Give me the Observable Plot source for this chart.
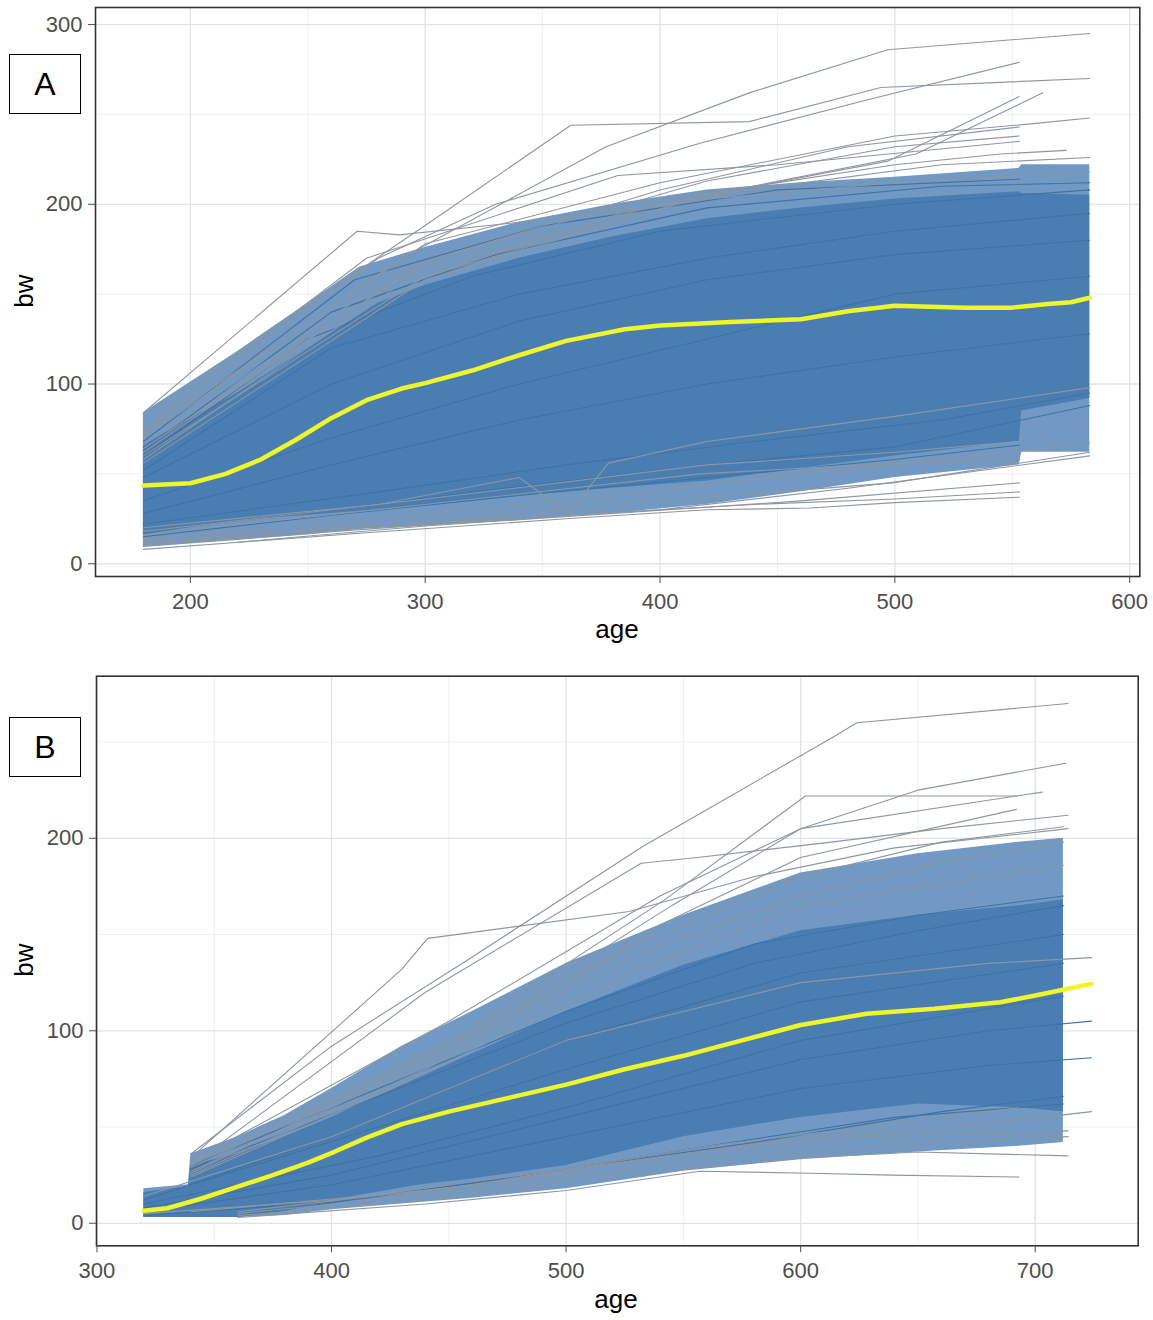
<!DOCTYPE html>
<html><head><meta charset="utf-8">
<script src="https://cdn.jsdelivr.net/npm/d3@7"></script>
<script src="https://cdn.jsdelivr.net/npm/@observablehq/plot@0.6"></script>
<style>
body{margin:0;background:#fff;font-family:"Liberation Sans",Arial,sans-serif;}
#wrap{position:relative;width:1153px;height:1320px;overflow:hidden;}
.panel{position:absolute;left:0;}
.tag{position:absolute;left:9px;width:72px;height:60px;box-sizing:border-box;border:1.5px solid #000;font-size:32px;display:flex;align-items:center;justify-content:center;background:#fff;color:#000;}
#titles{position:absolute;left:0;top:0;}
</style></head><body>
<div id="wrap">
<div id="pA" class="panel" style="top:0"></div>
<div id="pB" class="panel" style="top:650px"></div>
<svg id="titles" width="1153" height="1320"></svg>
<div class="tag" style="top:54px">A</div>
<div class="tag" style="top:717px">B</div>
</div>
<script>
// ---------- Panel A data ----------
const ageTicksA = [200, 300, 400, 500, 600];
const ageMinorA = [250, 350, 450, 550];
const bwTicksA = [0, 100, 200, 300];
const bwMinorA = [50, 150, 250];

const meanA = [[180,43.6],[200,44.8],[215,50],[230,58],[245,69],[260,81],[275,91],[290,97.5],[300,100.5],[320,107.5],[340,116],[360,124],[385,130.5],[400,132.5],[430,134.5],[460,136],[480,140.5],[500,143.5],[530,142.5],[550,142.5],[565,144.5],[575,145.5],[583,148]];

// spread of the many individual curves (spread = sparser, core = densest)
const spreadAgeA = [180,220,250,272,300,340,380,420,460,500,553,554,583];
const spreadLowA = [9,13,16,19,21,24,28,33,40,48,55,62,62];
const spreadHighA = [84,118,145,165,176,190,200,208,212,215,220,222,222];
const coreAgeA = [180,220,250,280,300,340,380,420,460,500,553,554,583];
const coreLowA = [16,24,27,30,32,38,42,46,53,60,68,85,92];
const coreHighA = [66,95,120,145,155,170,182,192,198,203,207,206,205];

const outerLinesA = [
  [[180,84],[271,185],[289,183],[340,190],[420,203],[500,212],[583,218]],
  [[180,70],[290,170],[377,232],[438,262],[497,286],[583,295]],
  [[180,82],[302,190],[362,244],[438,246],[494,265],[583,270]],
  [[180,74],[280,170],[330,200],[417,234],[488,258],[553,279]],
  [[180,62],[290,160],[400,200],[497,224],[553,260]],
  [[180,58],[290,156],[420,205],[509,228],[563,262]],
  [[180,72],[300,178],[400,212],[500,238],[560,245],[583,248]],
  [[180,66],[290,164],[400,208],[480,232],[553,243]],
  [[180,64],[300,168],[420,213],[500,232],[553,238]],
  [[180,60],[300,160],[400,202],[500,222],[545,228],[573,230]],
  [[180,56],[300,158],[420,205],[520,222],[583,226]],
  [[180,76],[275,170],[382,216],[450,222],[553,235]],
  [[180,8],[272,17],[360,25],[420,30],[464,31],[500,34],[553,37]],
  [[180,10],[272,19],[360,27],[440,33],[500,36],[553,40]],
  [[180,20],[280,33],[340,48],[361,28],[378,56],[420,68],[500,82],[583,98]],
  [[180,12],[280,22],[380,33],[450,40],[499,45],[583,62]],
  [[180,14],[280,25],[380,38],[460,50],[520,58],[583,67]],
  [[180,16],[300,33],[417,50],[500,56],[553,58]],
  [[180,18],[300,36],[420,55],[500,62],[553,68]],
  [[180,11],[290,22],[400,30],[480,42],[583,60]],
  [[220,12],[300,21],[380,28],[460,35],[553,45]]
];
const innerLinesA = [
  [[180,68],[270,158],[350,188],[450,208],[553,214]],
  [[180,63],[260,140],[330,172],[420,198],[520,210],[583,212]],
  [[180,60],[250,125],[320,160],[400,185],[500,200],[583,208]],
  [[180,52],[260,120],[340,150],[420,170],[500,185],[583,195]],
  [[180,15],[260,27],[340,38],[420,48],[500,58],[553,66]],
  [[180,18],[260,30],[340,43],[420,55],[500,65],[583,88]],
  [[180,22],[280,40],[360,55],[440,68],[520,80],[583,95]],
  [[180,35],[260,70],[340,100],[420,125],[500,150],[583,160]],
  [[180,28],[260,55],[340,80],[420,100],[500,115],[583,128]],
  [[180,48],[260,100],[340,135],[420,158],[500,172],[583,180]]
];

// ---------- Panel B data ----------
const ageTicksB = [300, 400, 500, 600, 700];
const ageMinorB = [350, 450, 550, 650];
const bwTicksB = [0, 100, 200];
const bwMinorB = [50, 150, 250];

const meanB = [[320,6.5],[330,7.8],[345,13],[360,19],[375,25],[390,31.5],[401,37],[415,44.5],[430,51.5],[450,58],[475,65],[500,72],[525,80],[550,87],[575,95],[600,103],[628,108.8],[657,111.4],[685,114.8],[700,118.3],[714,121.8],[724,124.4]];

const spreadAgeB = [320,339,340,360,380,400,430,460,500,550,600,650,693,712];
const spreadLowB = [3,3,3,3,4,7,10,13,18,27,33,37,40,42];
const spreadHighB = [18,20,36,45,56,70,92,110,135,160,182,192,198,200];
const coreAgeB = [320,339,340,360,380,400,438,460,500,550,600,650,693,712];
const coreLowB = [3,3,3,3,6,12,20,23,30,45,55,62,60,58];
const coreHighB = [16,19,30,36,45,55,76,88,110,134,152,160,165,168];

const outerLinesB = [
  [[340,36],[400,92],[457,136],[533,196],[613,252],[624,260],[714,270]],
  [[340,34],[430,132],[441,148],[527,162],[580,180],[640,195],[714,205]],
  [[340,30],[440,120],[532,187],[556,190],[613,198],[660,205],[714,212]],
  [[340,30],[450,95],[542,168],[602,222],[692,222]],
  [[340,29],[450,92],[545,165],[600,205],[703,224]],
  [[340,32],[450,105],[540,170],[600,205],[650,225],[713,239]],
  [[340,27],[450,88],[540,155],[600,190],[692,215]],
  [[340,26],[440,85],[530,145],[600,180],[660,198],[712,206]],
  [[340,25],[440,80],[530,140],[600,170],[660,188],[712,198]],
  [[340,24],[440,78],[530,132],[600,165],[712,186]],
  [[320,14],[400,45],[500,95],[600,125],[680,135],[724,138]],
  [[360,3],[440,10],[500,17],[557,27],[604,26],[639,25],[693,24]],
  [[360,4],[440,12],[500,22],[600,34],[650,37],[714,35]],
  [[320,5],[400,12],[500,28],[600,44],[680,52],[724,58]],
  [[360,5],[450,16],[550,32],[630,40],[714,45]],
  [[340,6],[450,18],[550,36],[630,45],[714,48]],
  [[360,6],[460,20],[560,40],[640,52],[693,60]]
];
const innerLinesB = [
  [[340,30],[420,70],[500,110],[580,145],[650,160],[712,170]],
  [[340,28],[420,66],[500,104],[580,135],[650,152],[712,165]],
  [[320,12],[400,45],[500,95],[600,130],[712,150]],
  [[320,4],[400,11],[480,24],[560,40],[640,55],[712,62]],
  [[360,4],[420,14],[500,28],[580,42],[660,58],[712,66]],
  [[320,8],[400,25],[500,55],[600,85],[680,100],[724,105]],
  [[320,6],[400,20],[500,45],[600,70],[680,82],[724,86]],
  [[340,20],[420,50],[500,80],[600,115],[712,135]],
  [[320,10],[420,35],[500,60],[600,95],[712,118]]
];

// ---------- helpers ----------
const flat = lines => lines.flatMap((pts, i) => pts.map(([age, bw]) => ({id: i, age, bw})));
const pairs = arr => arr.map(([age, bw]) => ({age, bw}));
const band = (ages, lo, hi) => ages.map((age, i) => ({age, lo: lo[i], hi: hi[i]}));

function panel(o) {
  return Plot.plot({
    width: 1153, height: o.height,
    marginLeft: o.ml, marginRight: o.mr, marginTop: o.mt, marginBottom: o.mb,
    style: {fontFamily: "'Liberation Sans', Arial, sans-serif", fontSize: "22px", background: "white"},
    x: {domain: o.xDomain}, y: {domain: o.yDomain},
    marks: [
      Plot.gridX(o.xMinor, {stroke: "#ececec", strokeOpacity: 1, strokeWidth: 0.8}),
      Plot.gridY(o.yMinor, {stroke: "#ececec", strokeOpacity: 1, strokeWidth: 0.8}),
      Plot.gridX(o.xTicks, {stroke: "#e3e3e3", strokeOpacity: 1, strokeWidth: 1.3}),
      Plot.gridY(o.yTicks, {stroke: "#e3e3e3", strokeOpacity: 1, strokeWidth: 1.3}),
      Plot.areaY(o.spread, {x: "age", y1: "lo", y2: "hi", fill: "#7199c3", curve: "linear"}),
      Plot.areaY(o.core, {x: "age", y1: "lo", y2: "hi", fill: "#4a7eb3", curve: "linear"}),
      Plot.line(flat(o.inner), {x: "age", y: "bw", z: "id", stroke: "#3f72a6", strokeWidth: 1.1}),
      Plot.line(flat(o.outer), {x: "age", y: "bw", z: "id", stroke: "#8d96a0", strokeWidth: 1.1}),
      Plot.line(pairs(o.mean), {x: "age", y: "bw", stroke: "#eef52a", strokeWidth: 4.5}),
      Plot.frame({stroke: "#333333", strokeWidth: 1.6}),
      Plot.axisX(o.xTicks, {tickSize: 7, tickPadding: 10, color: "#4d4d4d", label: null}),
      Plot.axisY(o.yTicks, {tickSize: 7, tickPadding: 6, color: "#4d4d4d", label: null})
    ]
  });
}

document.getElementById("pA").appendChild(panel({
  height: 650, ml: 95, mr: 13.7, mt: 7, mb: 74,
  xDomain: [159.6, 604.3], yDomain: [-7.1, 309.5],
  xTicks: ageTicksA, xMinor: ageMinorA, yTicks: bwTicksA, yMinor: bwMinorA,
  spread: band(spreadAgeA, spreadLowA, spreadHighA),
  core: band(coreAgeA, coreLowA, coreHighA),
  inner: innerLinesA, outer: outerLinesA, mean: meanA
}));
document.getElementById("pB").appendChild(panel({
  height: 670, ml: 96, mr: 15.3, mt: 25.7, mb: 74.7,
  xDomain: [299.8, 743.9], yDomain: [-11.7, 284.2],
  xTicks: ageTicksB, xMinor: ageMinorB, yTicks: bwTicksB, yMinor: bwMinorB,
  spread: band(spreadAgeB, spreadLowB, spreadHighB),
  core: band(coreAgeB, coreLowB, coreHighB),
  inner: innerLinesB, outer: outerLinesB, mean: meanB
}));

// axis titles
const t = d3.select("#titles").style("font-family", "'Liberation Sans', Arial, sans-serif");
t.append("text").attr("x", 617).attr("y", 638).attr("text-anchor", "middle").attr("font-size", 26).text("age");
t.append("text").attr("x", 616).attr("y", 1308).attr("text-anchor", "middle").attr("font-size", 26).text("age");
t.append("text").attr("transform", "translate(33,291) rotate(-90)").attr("text-anchor", "middle").attr("font-size", 26).text("bw");
t.append("text").attr("transform", "translate(33,960) rotate(-90)").attr("text-anchor", "middle").attr("font-size", 26).text("bw");
</script>
</body></html>
